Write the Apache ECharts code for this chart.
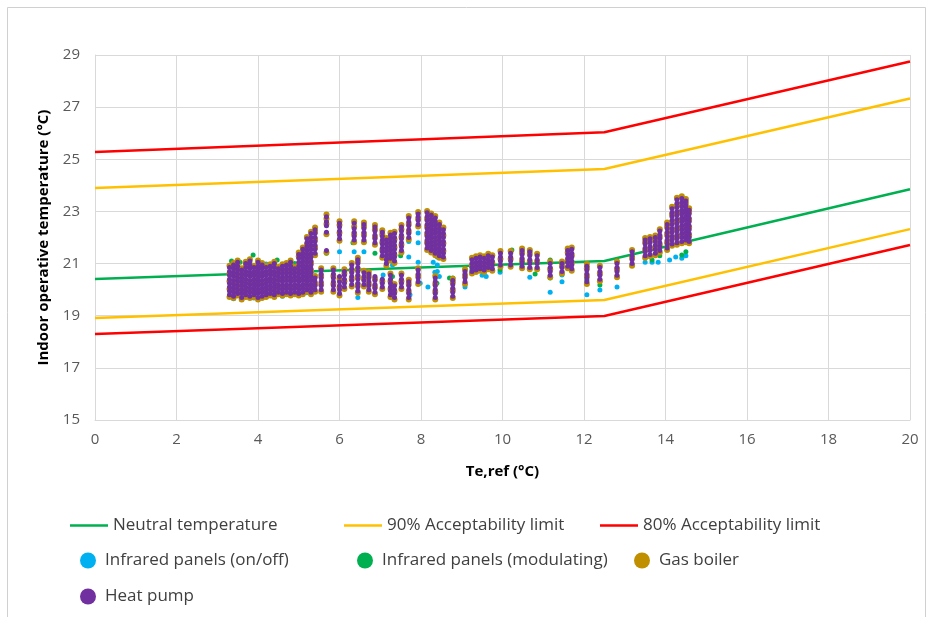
<!DOCTYPE html>
<html>
<head>
<meta charset="utf-8">
<script src="https://cdn.jsdelivr.net/npm/echarts@6/dist/echarts.min.js"></script>
<style>html,body{margin:0;padding:0;background:#fff}#c{width:928px;height:617px}</style>
</head>
<body>
<div id="c"></div>
<script>
// ---- axis ticks ----
const xTicks = {min: 0, max: 20, interval: 2};
const yTicks = {min: 15, max: 29, interval: 2};

// ---- comfort lines (Te,ref breakpoints) ----
const lineX = [0, 12.5, 20];
const neutralTemp = [20.41, 21.10, 23.85];
const upper90 = [23.90, 24.63, 27.33];
const lower90 = [18.91, 19.60, 22.32];
const upper80 = [25.28, 26.04, 28.75];
const lower80 = [18.30, 18.99, 21.71];

// ---- Heat pump: [Te,ref, [indoor temps]] ----
const heatPumpCols = [
[3.30,[19.80,19.95,20.10,20.25,20.40,20.55,20.70,20.85]],
[3.40,[19.75,19.90,20.05,20.20,20.35,20.50,20.65,20.80,20.95]],
[3.50,[19.85,20.00,20.15,20.30,20.45,20.60,20.75,20.90,21.05]],
[3.60,[19.70,19.85,20.00,20.15,20.30,20.45,20.60,20.75]],
[3.70,[19.80,19.95,20.10,20.25,20.40,20.55,20.70,20.85,21.00]],
[3.80,[19.75,19.90,20.05,20.20,20.35,20.50,20.65,20.80,20.95,21.10]],
[3.90,[19.80,19.95,20.10,20.25,20.40,20.55,20.70,20.85]],
[4.00,[19.70,19.85,20.00,20.15,20.30,20.45,20.60,20.75,20.90,21.05]],
[4.10,[19.75,19.90,20.05,20.20,20.35,20.50,20.65,20.80,20.95]],
[4.20,[19.80,19.95,20.10,20.25,20.40,20.55,20.70,20.85]],
[4.30,[19.85,20.00,20.15,20.30,20.45,20.60,20.75,20.90]],
[4.40,[19.80,19.95,20.10,20.25,20.40,20.55,20.70,20.85,21.00]],
[4.50,[19.90,20.05,20.20,20.35,20.50,20.65,20.80]],
[4.60,[19.85,20.00,20.15,20.30,20.45,20.60,20.75,20.90]],
[4.70,[19.90,20.05,20.20,20.35,20.50,20.65,20.80,20.95]],
[4.80,[19.85,20.00,20.15,20.30,20.45,20.60,20.75,20.90,21.05]],
[4.90,[19.90,20.05,20.20,20.35,20.50,20.65,20.80]],
[5.00,[19.85,20.00,20.15,20.30,20.45,20.60,20.75,20.90,21.05,21.20,21.35]],
[5.10,[19.90,20.05,20.20,20.35,20.50,20.65,20.80,20.95,21.10,21.25,21.40,21.55]],
[5.20,[20.00,20.15,20.30,20.45,20.60,20.75,20.90,21.05,21.20,21.35,21.50,21.65,21.80,21.95]],
[5.30,[19.90,20.05,20.20,20.35,20.50,20.65,20.80,20.95,21.10,21.25,21.40,21.55,21.70,21.85,22.00,22.15]],
[5.40,[20.00,20.15,20.30,20.45,21.40,21.55,21.70,21.85,22.00,22.15,22.30]],
[5.55,[20.00,20.15,20.30,20.45,20.60,20.75]],
[5.68,[21.50,22.20,22.45,22.60,22.80]],
[5.85,[20.00,20.15,20.30,20.45,20.60,20.75]],
[6.00,[19.85,20.00,20.15,20.30,20.50,21.95,22.10,22.25,22.40,22.55]],
[6.12,[20.10,20.25,20.40,20.55,20.70]],
[6.30,[20.20,20.35,20.50,20.65,20.80,20.95]],
[6.36,[21.90,22.05,22.20,22.35,22.55]],
[6.45,[19.95,20.10,20.25,20.40,20.55,20.70,20.85,21.00,21.15]],
[6.60,[20.20,20.35,20.50,20.65,21.90,22.05,22.20,22.35,22.50]],
[6.72,[20.00,20.15,20.30,20.45,20.60]],
[6.87,[19.90,20.05,20.20,20.35,20.50,21.80,21.95,22.10,22.25,22.40]],
[7.05,[20.10,20.25,20.40,21.30,21.45,21.60,21.75,21.90,22.05,22.20]],
[7.15,[21.00,21.15,21.30,21.45,21.60,21.75,21.90]],
[7.25,[19.80,19.95,20.10,20.25,20.40,20.55,21.20,21.35,21.50,21.65,21.80,21.95,22.10]],
[7.35,[19.70,19.85,20.00,20.15,21.10,21.25,21.40,21.55,21.70,21.85,22.00,22.15]],
[7.52,[20.10,20.25,20.40,20.55,21.50,21.65,21.80,21.95,22.10,22.25,22.40]],
[7.70,[19.70,19.85,20.00,20.15,20.30,22.00,22.15,22.30,22.45,22.60,22.75]],
[7.93,[20.30,20.45,20.60,20.75,22.50,22.65,22.80,22.90]],
[8.15,[21.60,21.75,21.90,22.05,22.20,22.35,22.50,22.65,22.80,22.95]],
[8.25,[21.50,21.65,21.80,21.95,22.10,22.25,22.40,22.55,22.70,22.85]],
[8.35,[19.70,19.85,20.00,20.15,20.30,20.45,21.40,21.55,21.70,21.85,22.00,22.15,22.30,22.45,22.60,22.75]],
[8.45,[21.30,21.45,21.60,21.75,21.90,22.05,22.20,22.35,22.50]],
[8.55,[21.25,21.40,21.55,21.70,21.85,22.00,22.15,22.30]],
[8.78,[19.75,19.90,20.05,20.20,20.35]],
[9.08,[20.30,20.45,20.60,20.70]],
[9.25,[20.70,20.85,21.00,21.15]],
[9.35,[20.75,20.90,21.05,21.20]],
[9.45,[20.80,20.95,21.10,21.25]],
[9.55,[20.75,20.90,21.05,21.20]],
[9.65,[20.85,21.00,21.15,21.30]],
[9.75,[20.80,20.95,21.10,21.25]],
[9.95,[20.95,21.10,21.25,21.40]],
[10.20,[20.95,21.10,21.25,21.40]],
[10.48,[20.90,21.05,21.20,21.35,21.50]],
[10.67,[20.85,21.00,21.15,21.30,21.45]],
[10.85,[20.85,21.00,21.15,21.30]],
[11.17,[20.55,20.70,20.85,21.00]],
[11.46,[20.70,20.85,21.00]],
[11.60,[20.90,21.05,21.20,21.35,21.50]],
[11.70,[20.80,20.95,21.10,21.25,21.40,21.55]],
[12.07,[20.30,20.45,20.60,20.75,20.90]],
[12.39,[20.40,20.55,20.70,20.85]],
[12.81,[20.55,20.70,20.85,21.00]],
[13.18,[21.00,21.15,21.30,21.45]],
[13.50,[21.30,21.45,21.60,21.75,21.90]],
[13.62,[21.35,21.50,21.65,21.80,21.95]],
[13.75,[21.40,21.55,21.70,21.85,22.00]],
[13.86,[21.50,21.65,21.80,21.95,22.10,22.25]],
[14.04,[21.60,21.75,21.90,22.05,22.20,22.35,22.50]],
[14.16,[21.75,21.90,22.05,22.20,22.35,22.50,22.65,22.80,22.95,23.10]],
[14.28,[21.80,21.95,22.10,22.25,22.40,22.55,22.70,22.85,23.00,23.15,23.30,23.45]],
[14.40,[21.85,22.00,22.15,22.30,22.45,22.60,22.75,22.90,23.05,23.20,23.35,23.50]],
[14.50,[21.90,22.05,22.20,22.35,22.50,22.65,22.80,22.95,23.10,23.25,23.40]],
[14.58,[21.85,22.00,22.15,22.30,22.45,22.60,22.75,22.90,23.05]]
];

// ---- Gas boiler: [Te,ref, [indoor temps]] ----
const gasBoilerCols = [
[3.30,[19.72,20.02,20.32,20.62,20.92]],
[3.40,[19.68,19.98,20.28,20.58,20.88,21.02]],
[3.50,[19.78,20.08,20.38,20.68,20.98,21.12]],
[3.60,[19.62,19.92,20.22,20.52,20.82]],
[3.70,[19.72,20.02,20.32,20.62,20.92,21.07]],
[3.80,[19.68,19.98,20.28,20.58,20.88,21.17]],
[3.90,[19.72,20.02,20.32,20.62,20.92]],
[4.00,[19.62,19.92,20.22,20.52,20.82,21.12]],
[4.10,[19.68,19.98,20.28,20.58,20.88,21.02]],
[4.20,[19.72,20.02,20.32,20.62,20.92]],
[4.30,[19.78,20.08,20.38,20.68,20.97]],
[4.40,[19.72,20.02,20.32,20.62,20.92,21.07]],
[4.50,[19.82,20.12,20.42,20.72,20.87]],
[4.60,[19.78,20.08,20.38,20.68,20.97]],
[4.70,[19.82,20.12,20.42,20.72,21.02]],
[4.80,[19.78,20.08,20.38,20.68,20.98,21.12]],
[4.90,[19.82,20.12,20.42,20.72,20.87]],
[5.00,[19.78,20.08,20.38,20.68,20.98,21.28,21.42]],
[5.10,[19.82,20.12,20.42,20.72,21.02,21.32,21.62]],
[5.20,[19.92,20.22,20.52,20.82,21.12,21.42,21.72,22.02]],
[5.30,[19.82,20.12,20.42,20.72,21.02,21.32,21.62,21.92,22.22]],
[5.40,[19.92,20.22,20.52,21.32,21.62,21.92,22.22,22.38]],
[5.55,[19.92,20.22,20.52,20.82]],
[5.68,[21.42,22.12,22.52,22.72,22.88]],
[5.85,[19.92,20.22,20.52,20.82]],
[6.00,[19.78,20.08,20.42,21.88,22.18,22.48,22.62]],
[6.12,[20.02,20.32,20.62,20.78]],
[6.30,[20.12,20.42,20.72,21.02]],
[6.36,[21.82,22.12,22.42,22.62]],
[6.45,[19.88,20.18,20.48,20.78,21.08,21.22]],
[6.60,[20.12,20.42,20.72,21.82,22.12,22.42,22.58]],
[6.72,[19.92,20.22,20.52,20.68]],
[6.87,[19.82,20.12,20.42,21.72,22.02,22.32,22.48]],
[7.05,[20.02,20.32,21.22,21.52,21.82,22.12,22.28]],
[7.15,[20.92,21.22,21.52,21.82,21.98]],
[7.25,[19.72,20.02,20.32,20.62,21.12,21.42,21.72,22.02,22.18]],
[7.35,[19.62,19.92,20.22,21.02,21.32,21.62,21.92,22.22]],
[7.52,[20.02,20.32,20.62,21.42,21.72,22.02,22.32,22.48]],
[7.70,[19.62,19.92,20.22,20.38,21.92,22.22,22.52,22.82]],
[7.93,[20.22,20.52,20.82,22.42,22.72,22.98]],
[8.15,[21.52,21.82,22.12,22.42,22.72,23.02]],
[8.25,[21.42,21.72,22.02,22.32,22.62,22.92]],
[8.35,[19.62,19.92,20.22,20.52,21.32,21.62,21.92,22.22,22.52,22.82]],
[8.45,[21.22,21.52,21.82,22.12,22.42,22.58]],
[8.55,[21.18,21.48,21.78,22.08,22.38]],
[8.78,[19.68,19.98,20.28,20.42]],
[9.08,[20.22,20.52,20.78]],
[9.25,[20.62,20.92,21.22]],
[9.35,[20.68,20.98,21.28]],
[9.45,[20.72,21.02,21.32]],
[9.55,[20.68,20.98,21.28]],
[9.65,[20.78,21.08,21.38]],
[9.75,[20.72,21.02,21.32]],
[9.95,[20.88,21.18,21.48]],
[10.20,[20.88,21.18,21.48]],
[10.48,[20.82,21.12,21.42,21.58]],
[10.67,[20.78,21.08,21.38,21.52]],
[10.85,[20.78,21.08,21.38]],
[11.17,[20.48,20.78,21.08]],
[11.46,[20.62,20.92,21.08]],
[11.60,[20.82,21.12,21.42,21.58]],
[11.70,[20.72,21.02,21.32,21.62]],
[12.07,[20.22,20.52,20.82,20.98]],
[12.39,[20.32,20.62,20.92]],
[12.81,[20.48,20.78,21.08]],
[13.18,[20.92,21.22,21.52]],
[13.50,[21.22,21.52,21.82,21.98]],
[13.62,[21.28,21.58,21.88,22.02]],
[13.75,[21.32,21.62,21.92,22.08]],
[13.86,[21.42,21.72,22.02,22.32]],
[14.04,[21.52,21.82,22.12,22.42,22.58]],
[14.16,[21.68,21.98,22.28,22.58,22.88,23.18]],
[14.28,[21.72,22.02,22.32,22.62,22.92,23.22,23.52]],
[14.40,[21.78,22.08,22.38,22.68,22.98,23.28,23.58]],
[14.50,[21.82,22.12,22.42,22.72,23.02,23.32,23.48]],
[14.58,[21.78,22.08,22.38,22.68,22.98,23.12]]
];

// ---- Infrared panels (on/off): [Te,ref, indoor temp] ----
const irOnOff = [
[3.40,19.65],[3.60,19.62],[3.90,19.68],[4.10,19.72],[4.30,19.78],[4.60,19.75],[3.50,21.00],[3.80,21.05],[4.20,20.98],
[5.20,19.88],[5.00,21.28],[5.68,22.48],[5.68,22.18],[6.00,21.90],[6.00,21.45],[6.36,21.45],[6.45,19.70],[6.60,21.45],
[7.07,20.56],[7.30,20.95],[7.30,19.70],[7.70,21.85],[7.70,21.25],[7.73,19.80],[7.93,22.17],[7.93,21.80],[7.93,21.05],
[7.98,20.25],[8.17,20.10],[8.34,20.67],[8.40,20.95],[8.30,21.05],[8.40,21.25],[8.40,20.70],[8.45,20.50],
[9.08,20.10],[9.50,20.55],[9.60,20.50],[9.94,20.67],[10.67,20.48],[11.17,19.90],[11.46,20.56],[11.46,20.30],
[12.07,19.80],[12.39,19.99],[12.81,20.10],[13.18,20.95],[13.50,21.05],[13.67,21.05],[13.82,21.05],[14.10,21.14],
[14.25,21.25],[14.40,21.20],[14.50,21.30]
];

// ---- Infrared panels (modulating): [Te,ref, indoor temp] ----
const irModulating = [
[3.35,21.10],[3.56,21.05],[3.88,21.33],[4.47,21.14],[4.90,21.00],[5.10,21.60],[5.68,21.40],[6.33,21.80],[6.87,21.40],
[7.30,21.14],[7.30,20.50],[7.50,21.30],[8.30,21.60],[8.39,20.25],[8.70,20.45],[8.78,20.45],[9.25,20.75],[9.94,20.75],
[10.23,21.52],[10.67,21.50],[10.80,20.60],[11.17,21.14],[11.17,20.45],[12.07,20.87],[12.07,20.37],[12.39,20.18],
[13.67,21.14],[13.86,21.30],[14.40,21.33],[14.50,21.45]
];

const FONT = 'Open Sans';
const C = {neutral:'#00b050', l90:'#ffc000', l80:'#ff0000', onoff:'#00b0f0', mod:'#00b050', boiler:'#bf8f00', hp:'#7030a0'};

function pairs(xs, ys){ return xs.map((x,i)=>[x, ys[i]]); }
function flatCols(cols){ const out=[]; cols.forEach(c=>c[1].forEach(y=>out.push([c[0],y]))); return out; }

const chart = echarts.init(document.getElementById('c'), null, {renderer:'canvas'});

function lineSeries(name, data, color){
  return {name, type:'line', data, symbol:'none', lineStyle:{color, width:2.5}, itemStyle:{color}, z:2, animation:false};
}
function scatterSeries(name, data, color, size, z){
  return {name, type:'scatter', data, symbolSize:size, itemStyle:{color, opacity:1}, z, animation:false};
}
function leg(name, left, top, isLine){
  return {
    data:[{name, icon: isLine ? 'rect' : 'circle'}],
    left, top, padding:0, selectedMode:false,
    itemWidth: isLine ? 38 : 16, itemHeight: isLine ? 2.5 : 16, itemGap: 6,
    textStyle:{fontFamily:FONT, fontSize:17, color:'#404040', padding:[0,0,0,isLine?0:4]}
  };
}

const option = {
  backgroundColor:'#fff',
  animation:false,
  graphic:[{type:'rect', shape:{x:7.5, y:7.5, width:918, height:640}, style:{fill:'none', stroke:'#d0d0d0', lineWidth:1}, silent:true}],
  grid:{left:95, right:18, top:55, bottom:197, containLabel:false},
  xAxis:{
    type:'value', min:xTicks.min, max:xTicks.max, interval:xTicks.interval,
    name:'Te,ref (°C)', nameLocation:'middle', nameGap:44,
    nameTextStyle:{fontFamily:FONT, fontSize:15, fontWeight:'bold', color:'#000'},
    axisLine:{show:true, lineStyle:{color:'#d9d9d9', width:1}},
    axisTick:{show:false},
    axisLabel:{fontFamily:FONT, fontSize:15, color:'#595959', margin:12},
    splitLine:{show:true, lineStyle:{color:'#d9d9d9', width:1}}
  },
  yAxis:{
    type:'value', min:yTicks.min, max:yTicks.max, interval:yTicks.interval,
    name:'Indoor operative temperature (°C)', nameLocation:'middle', nameGap:44,
    nameTextStyle:{fontFamily:FONT, fontSize:15, fontWeight:'bold', color:'#000'},
    axisLine:{show:true, lineStyle:{color:'#d9d9d9', width:1}},
    axisTick:{show:false},
    axisLabel:{fontFamily:FONT, fontSize:15, color:'#595959', margin:15},
    splitLine:{show:true, lineStyle:{color:'#d9d9d9', width:1}}
  },
  legend:[
    leg('Neutral temperature', 70, 517, true),
    leg('90% Acceptability limit', 344, 517, true),
    leg('80% Acceptability limit', 600, 517, true),
    leg('Infrared panels (on/off)', 80, 552, false),
    leg('Infrared panels (modulating)', 357, 552, false),
    leg('Gas boiler', 634, 552, false),
    leg('Heat pump', 80, 588, false)
  ],
  series:[
    lineSeries('Neutral temperature', pairs(lineX, neutralTemp), C.neutral),
    lineSeries('90% Acceptability limit', pairs(lineX, upper90), C.l90),
    lineSeries('90% Acceptability limit', pairs(lineX, lower90), C.l90),
    lineSeries('80% Acceptability limit', pairs(lineX, upper80), C.l80),
    lineSeries('80% Acceptability limit', pairs(lineX, lower80), C.l80),
    scatterSeries('Infrared panels (on/off)', irOnOff, C.onoff, 5, 3),
    scatterSeries('Infrared panels (modulating)', irModulating, C.mod, 5, 4),
    scatterSeries('Gas boiler', flatCols(gasBoilerCols), C.boiler, 6, 5),
    scatterSeries('Heat pump', flatCols(heatPumpCols), C.hp, 5, 6)
  ]
};
chart.setOption(option);
</script>
</body>
</html>
